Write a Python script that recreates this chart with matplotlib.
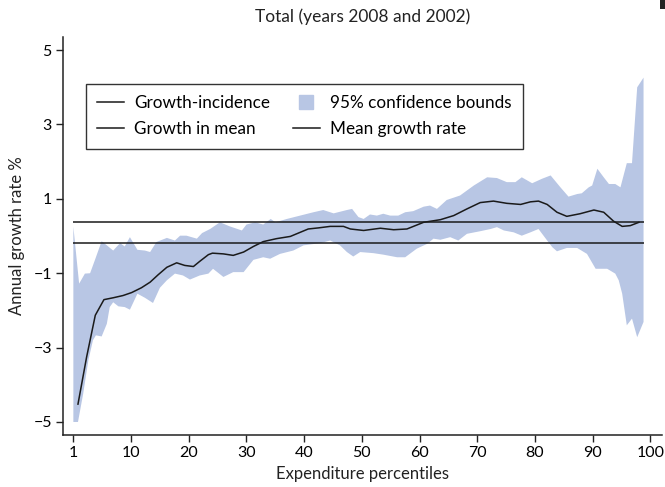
import numpy as np
import matplotlib.pyplot as plt
from matplotlib.lines import Line2D
from matplotlib.patches import Rectangle

plt.rcParams['font.family'] = ['Lato', 'DejaVu Sans']

# position on the axis (tick "1" sits at 0, "10" at 10, ...)
upper_x = [0.0, 1.0, 2.0, 2.9, 3.7, 4.9, 5.8, 6.9, 8.1, 8.9, 9.8, 11.1, 12.4, 13.3,
           14.4, 16.2, 17.6, 18.5, 19.6, 21.4, 22.3, 23.7, 25.4, 27.1, 29.2, 30.0,
           31.5, 32.9, 34.2, 35.0, 37.0, 39.3, 41.6, 43.3, 45.1, 47.4, 48.3, 49.4,
           50.3, 51.4, 52.6, 53.7, 54.9, 56.3, 57.5, 58.9, 60.7, 61.8, 63.0, 64.7,
           67.0, 69.4, 71.7, 73.4, 75.1, 76.6, 77.7, 79.5, 81.2, 82.7, 84.4, 85.8,
           87.3, 88.1, 89.3, 89.9, 90.8, 91.9, 92.8, 93.9, 94.8, 95.9, 96.8, 97.7, 98.8]
upper_y = [0.25, -1.28, -1.01, -1.00, -0.66, -0.14, -0.25, -0.39, -0.19, -0.28, -0.03,
           -0.37, -0.39, -0.43, -0.16, -0.05, -0.12, 0.01, 0.01, -0.07, 0.08, 0.19,
           0.37, 0.26, 0.15, 0.31, 0.37, 0.31, 0.46, 0.37, 0.46, 0.55, 0.64, 0.70,
           0.61, 0.70, 0.73, 0.51, 0.46, 0.58, 0.55, 0.60, 0.55, 0.55, 0.64, 0.67,
           0.79, 0.82, 0.73, 0.97, 1.09, 1.36, 1.58, 1.56, 1.45, 1.45, 1.58, 1.42,
           1.54, 1.63, 1.31, 1.06, 1.13, 1.15, 1.31, 1.36, 1.81, 1.58, 1.40, 1.40,
           1.31, 1.96, 1.96, 4.00, 4.26]

lower_x = [0.0, 0.8, 1.7, 2.6, 3.4, 3.9, 4.9, 5.8, 6.3, 6.9, 7.8, 8.9, 9.8, 11.1, 12.4,
           13.8, 15.0, 16.2, 17.6, 19.0, 20.2, 21.9, 23.4, 24.2, 26.0, 27.7, 29.5,
           31.2, 32.9, 34.1, 35.8, 38.1, 39.9, 42.8, 44.5, 46.2, 47.4, 48.5, 49.7,
           52.0, 53.7, 56.1, 57.5, 59.5, 61.3, 62.4, 63.6, 65.3, 66.7, 68.2, 70.5,
           72.3, 73.4, 74.6, 76.3, 77.7, 79.2, 80.6, 82.1, 83.0, 83.8, 85.5, 87.3,
           89.0, 90.5, 92.5, 93.9, 94.5, 95.1, 95.9, 96.8, 97.7, 98.8]
lower_y = [-5.0, -5.0, -4.24, -3.34, -2.80, -2.67, -2.70, -2.36, -1.91, -1.78, -1.89,
           -1.91, -1.98, -1.55, -1.66, -1.80, -1.39, -1.19, -1.01, -1.06, -1.17, -1.06,
           -1.01, -0.88, -1.10, -0.97, -0.97, -0.64, -0.57, -0.61, -0.48, -0.39, -0.25,
           -0.19, -0.12, -0.25, -0.43, -0.55, -0.43, -0.46, -0.50, -0.57, -0.57, -0.34,
           -0.21, -0.07, -0.10, -0.03, -0.12, 0.06, 0.13, 0.19, 0.24, 0.15, 0.10, 0.01,
           0.10, 0.19, -0.12, -0.30, -0.41, -0.32, -0.32, -0.48, -0.88, -0.88, -1.01,
           -1.19, -1.55, -2.40, -2.22, -2.72, -2.31]

gic_x = [0.8, 2.3, 3.8, 5.3, 6.9, 8.6, 10.1, 11.8, 13.3, 14.7, 16.2, 17.9, 19.3, 20.8,
         21.9, 23.4, 24.1, 26.0, 27.7, 29.5, 31.2, 32.9, 35.2, 37.6, 39.3, 40.7, 42.5,
         44.5, 46.8, 48.0, 50.3, 53.2, 55.5, 57.8, 60.7, 63.6, 65.9, 68.2, 70.5, 72.8,
         75.1, 77.5, 79.2, 80.6, 82.1, 83.8, 85.5, 87.8, 90.2, 91.9, 93.6, 95.1, 96.5, 98.0]
gic_y = [-4.52, -3.25, -2.13, -1.71, -1.66, -1.60, -1.52, -1.39, -1.24, -1.04, -0.84,
         -0.72, -0.79, -0.82, -0.68, -0.50, -0.46, -0.48, -0.52, -0.43, -0.28, -0.15,
         -0.07, -0.01, 0.10, 0.19, 0.22, 0.26, 0.26, 0.19, 0.15, 0.21, 0.17, 0.19,
         0.37, 0.44, 0.55, 0.73, 0.90, 0.94, 0.88, 0.85, 0.92, 0.94, 0.85, 0.64, 0.53,
         0.60, 0.70, 0.64, 0.40, 0.26, 0.28, 0.37]

growth_in_mean = 0.37
mean_growth_rate = -0.18

xtick_pos = [0, 10, 20, 30, 40, 50, 60, 70, 80, 90, 100]
xtick_labels = ['1', '10', '20', '30', '40', '50', '60', '70', '80', '90', '100']
ytick_pos = [-5, -3, -1, 1, 3, 5]

band_color = '#b8c6e4'
line_color = '#1a1a1a'

fig = plt.figure(figsize=(6.65, 4.87), dpi=100)
ax = fig.add_axes([0.0947, 0.1068, 0.9008, 0.817])

# confidence band as polygon: upper edge then lower edge backwards
ax.fill(np.r_[upper_x, lower_x[::-1]], np.r_[upper_y, lower_y[::-1]],
        color=band_color, lw=0)
ax.hlines([growth_in_mean, mean_growth_rate], 0, 98.8, color=line_color, lw=1.1)
ax.plot(gic_x, gic_y, color=line_color, lw=1.1)

ax.set_xlim(-1.8, 102)
ax.set_ylim(-5.35, 5.35)
ax.set_xticks(xtick_pos)
ax.set_xticklabels(xtick_labels)
ax.set_yticks(ytick_pos)
ax.set_yticklabels(['\u22125', '\u22123', '\u22121', '1', '3', '5'])
ax.tick_params(labelsize=11.5, length=5, width=1, color='#222222', pad=3)
for s in ['top', 'right']:
    ax.spines[s].set_visible(False)
for s in ['left', 'bottom']:
    ax.spines[s].set_linewidth(1.1)
    ax.spines[s].set_color('#222222')

ax.set_title('Total (years 2008 and 2002)', fontsize=12.5, pad=11, color='#222222')
ax.set_xlabel('Expenditure percentiles', fontsize=12, labelpad=4, color='#222222')
ax.set_ylabel('Annual growth rate %', fontsize=12, labelpad=6, color='#222222')

handles = [Line2D([], [], color=line_color, lw=1.1),
           Line2D([], [], color=line_color, lw=1.1),
           Line2D([], [], marker='s', ls='none', markersize=10,
                  markerfacecolor=band_color, markeredgecolor=band_color),
           Line2D([], [], color=line_color, lw=1.1)]
labels = ['Growth-incidence', 'Growth in mean', '95% confidence bounds', 'Mean growth rate']
leg = ax.legend(handles, labels, ncol=2, loc='upper left', bbox_to_anchor=(0.038, 0.882),
                borderaxespad=0, fontsize=12.3, fancybox=False, framealpha=1,
                edgecolor='#333333', handlelength=1.6, handletextpad=0.6,
                columnspacing=1.3, borderpad=0.65, labelspacing=0.6)
leg.get_frame().set_linewidth(1.0)

# small dark fragment cut by the top-right edge in the source image
fig.patches.append(Rectangle((0.9925, 0.982), 0.01, 0.018, transform=fig.transFigure,
                             color='#222222', lw=0))

fig.savefig('out.png', dpi=100)
